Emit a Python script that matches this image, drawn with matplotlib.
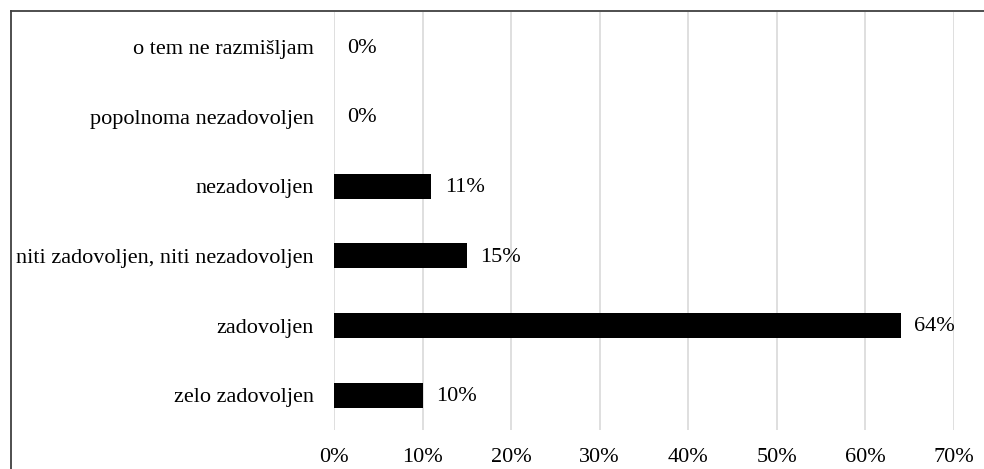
import matplotlib
matplotlib.use("Agg")
import matplotlib.pyplot as plt
from matplotlib.lines import Line2D

categories = ["zelo zadovoljen", "zadovoljen", "niti zadovoljen, niti nezadovoljen",
              "nezadovoljen", "popolnoma nezadovoljen", "o tem ne razmišljam"]
values = [10, 64, 15, 11, 0, 0]
xticks = [0, 10, 20, 30, 40, 50, 60, 70]

plt.rcParams['font.family'] = ['Liberation Serif', 'DejaVu Serif']

fig = plt.figure(figsize=(9.84, 4.69), dpi=100)
ax = fig.add_axes([334/984, 1-430/469, (954-334)/984, (430-12)/469])

y = list(range(len(categories)))
ax.barh(y, values, height=0.36, color='black', zorder=3)
for yi, v in zip(y, values):
    ax.text(v + 1.5, yi - 0.02, f"{v}%", va='center', ha='left', fontsize=16)

ax.set_xlim(0, 70)
ax.set_ylim(-0.5, len(categories) - 0.5)
ax.set_yticks(y)
ax.set_yticklabels(categories, fontsize=16)
ax.set_xticks(xticks)
ax.set_xticklabels([f"{t}%" for t in xticks], fontsize=16)
ax.tick_params(axis='both', length=0)
ax.tick_params(axis='y', pad=14.5)
ax.tick_params(axis='x', pad=13)
ax.grid(axis='x', color='#d9d9d9', linewidth=1.2, zorder=0)
for s in ax.spines.values():
    s.set_visible(False)

# outer frame (left and top edges visible)
fig.add_artist(Line2D([11/984, 11/984], [0, 1-11/469], transform=fig.transFigure,
                      color='#404040', linewidth=1.3))
fig.add_artist(Line2D([11/984, 1], [1-11/469, 1-11/469], transform=fig.transFigure,
                      color='#404040', linewidth=1.3))

fig.savefig("out.png", dpi=100)
